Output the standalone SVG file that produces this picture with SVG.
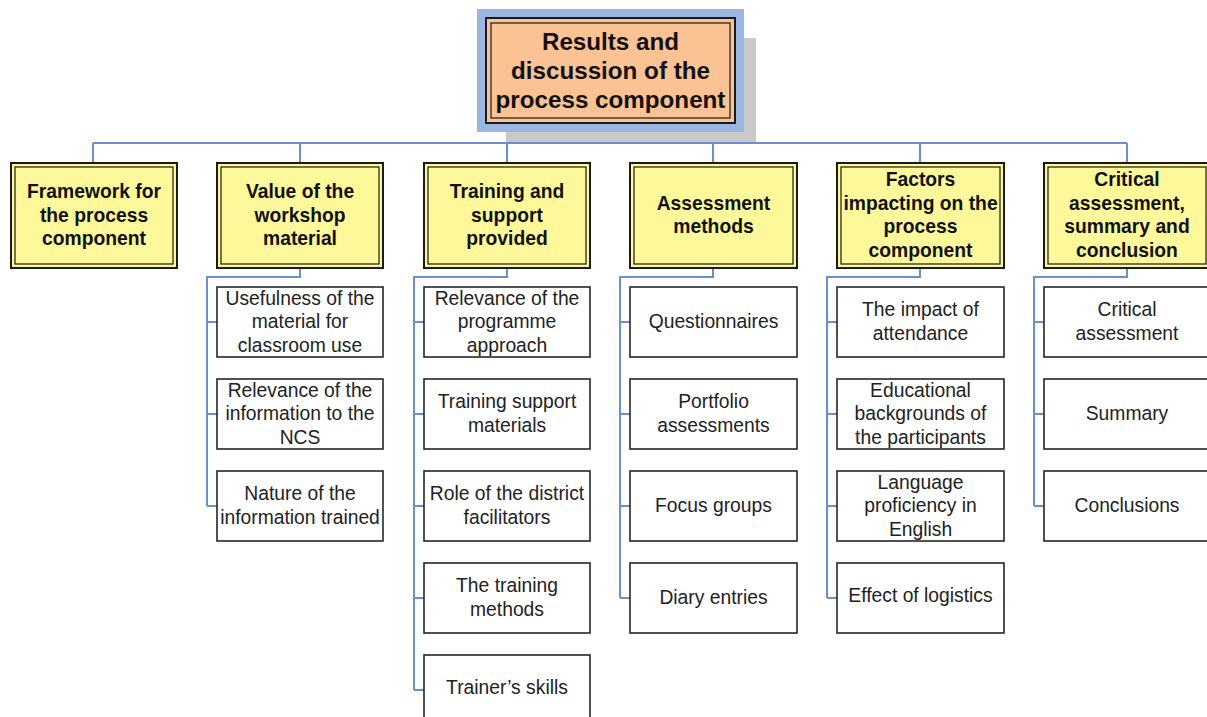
<svg xmlns="http://www.w3.org/2000/svg" width="1207" height="717" viewBox="0 0 1207 717">
  <style>
    .bus { fill: none; stroke: #6b8fcc; stroke-width: 2; }
    .head-outer { fill: #fdf89a; stroke: #1a1a1a; stroke-width: 2; }
    .head-inner { fill: none; stroke: #1a1a1a; stroke-width: 1.2; }
    .item { fill: #ffffff; stroke: #262626; stroke-width: 1.6; }
    .t-root { font-family: "Liberation Sans", Arial, sans-serif; font-weight: bold; font-size: 24.2px; fill: #111; text-anchor: middle; }
    .t-head { font-family: "Liberation Sans", Arial, sans-serif; font-weight: bold; font-size: 19.3px; fill: #111; text-anchor: middle; }
    .t-item { font-family: "Liberation Sans", Arial, sans-serif; font-size: 19.3px; fill: #222; text-anchor: middle; }
  </style>

  <rect width="1207" height="717" fill="#ffffff"/>

  <!-- connectors -->
  <g id="connectors">
    <path class="bus" d="M610,124 V143 M93,143 H1127 M93,143 V163 M300,143 V163 M507,143 V163 M713,143 V163 M920,143 V163 M1127,143 V163"/>
    <!-- Value of the workshop material -->
    <path class="bus" d="M300,268 V277 H207 V506 M207,322 H217 M207,414 H217 M207,506 H217"/>
    <!-- Training and support provided -->
    <path class="bus" d="M507,268 V277 H414 V690 M414,322 H424 M414,414 H424 M414,506 H424 M414,598 H424 M414,690 H424"/>
    <!-- Assessment methods -->
    <path class="bus" d="M713,268 V277 H620 V598 M620,322 H630 M620,414 H630 M620,506 H630 M620,598 H630"/>
    <!-- Factors impacting on the process component -->
    <path class="bus" d="M920,268 V277 H827 V598 M827,322 H837 M827,414 H837 M827,506 H837 M827,598 H837"/>
    <!-- Critical assessment, summary and conclusion -->
    <path class="bus" d="M1127,268 V277 H1034 V506 M1034,322 H1044 M1034,414 H1044 M1034,506 H1044"/>
  </g>

  <!-- root -->
  <g id="root">
    <rect x="506" y="38" width="250" height="104" fill="#c9c9c9"/>
    <rect x="477" y="9" width="267" height="123" fill="#9bb6e0"/>
    <rect x="486" y="18" width="249" height="105" fill="#fbc293" stroke="#1a1a1a" stroke-width="2"/>
    <rect x="491" y="23" width="239" height="95" fill="none" stroke="#1a1a1a" stroke-width="1.2"/>
    <text class="t-root" x="610.5" y="49.5">Results and</text>
    <text class="t-root" x="610.5" y="78.5">discussion of the</text>
    <text class="t-root" x="610.5" y="107.5">process component</text>
  </g>

  <!-- level one headings -->
  <g id="framework">
    <rect class="head-outer" x="11" y="163" width="166" height="105"/>
    <rect class="head-inner" x="15" y="167" width="158" height="97"/>
    <text class="t-head" x="94" y="198">Framework for</text>
    <text class="t-head" x="94" y="221.5">the process</text>
    <text class="t-head" x="94" y="245">component</text>
  </g>
  <g id="value">
    <rect class="head-outer" x="217" y="163" width="166" height="105"/>
    <rect class="head-inner" x="221" y="167" width="158" height="97"/>
    <text class="t-head" x="300" y="198">Value of the</text>
    <text class="t-head" x="300" y="221.5">workshop</text>
    <text class="t-head" x="300" y="245">material</text>
  </g>
  <g id="training">
    <rect class="head-outer" x="424" y="163" width="166" height="105"/>
    <rect class="head-inner" x="428" y="167" width="158" height="97"/>
    <text class="t-head" x="507" y="198">Training and</text>
    <text class="t-head" x="507" y="221.5">support</text>
    <text class="t-head" x="507" y="245">provided</text>
  </g>
  <g id="assessment">
    <rect class="head-outer" x="630" y="163" width="167" height="105"/>
    <rect class="head-inner" x="634" y="167" width="159" height="97"/>
    <text class="t-head" x="713.5" y="209.5">Assessment</text>
    <text class="t-head" x="713.5" y="233">methods</text>
  </g>
  <g id="factors">
    <rect class="head-outer" x="837" y="163" width="167" height="105"/>
    <rect class="head-inner" x="841" y="167" width="159" height="97"/>
    <text class="t-head" x="920.5" y="186">Factors</text>
    <text class="t-head" x="920.5" y="209.5">impacting on the</text>
    <text class="t-head" x="920.5" y="233">process</text>
    <text class="t-head" x="920.5" y="256.5">component</text>
  </g>
  <g id="critical">
    <rect class="head-outer" x="1044" y="163" width="166" height="105"/>
    <rect class="head-inner" x="1048" y="167" width="158" height="97"/>
    <text class="t-head" x="1127" y="186">Critical</text>
    <text class="t-head" x="1127" y="209.5">assessment,</text>
    <text class="t-head" x="1127" y="233">summary and</text>
    <text class="t-head" x="1127" y="256.5">conclusion</text>
  </g>

  <!-- Value of the workshop material: items -->
  <g id="value-usefulness">
    <rect class="item" x="217" y="287" width="166" height="70"/>
    <text class="t-item" x="300" y="304.5">Usefulness of the</text>
    <text class="t-item" x="300" y="328">material for</text>
    <text class="t-item" x="300" y="351.5">classroom use</text>
  </g>
  <g id="value-relevance">
    <rect class="item" x="217" y="379" width="166" height="70"/>
    <text class="t-item" x="300" y="396.5">Relevance of the</text>
    <text class="t-item" x="300" y="420">information to the</text>
    <text class="t-item" x="300" y="443.5">NCS</text>
  </g>
  <g id="value-nature">
    <rect class="item" x="217" y="471" width="166" height="70"/>
    <text class="t-item" x="300" y="500">Nature of the</text>
    <text class="t-item" x="300" y="523.5">information trained</text>
  </g>

  <!-- Training and support provided: items -->
  <g id="training-relevance">
    <rect class="item" x="424" y="287" width="166" height="70"/>
    <text class="t-item" x="507" y="304.5">Relevance of the</text>
    <text class="t-item" x="507" y="328">programme</text>
    <text class="t-item" x="507" y="351.5">approach</text>
  </g>
  <g id="training-materials">
    <rect class="item" x="424" y="379" width="166" height="70"/>
    <text class="t-item" x="507" y="408">Training support</text>
    <text class="t-item" x="507" y="431.5">materials</text>
  </g>
  <g id="training-facilitators">
    <rect class="item" x="424" y="471" width="166" height="70"/>
    <text class="t-item" x="507" y="500">Role of the district</text>
    <text class="t-item" x="507" y="523.5">facilitators</text>
  </g>
  <g id="training-methods">
    <rect class="item" x="424" y="563" width="166" height="70"/>
    <text class="t-item" x="507" y="592">The training</text>
    <text class="t-item" x="507" y="615.5">methods</text>
  </g>
  <g id="training-skills">
    <rect class="item" x="424" y="655" width="166" height="70"/>
    <text class="t-item" x="507" y="693.5">Trainer’s skills</text>
  </g>

  <!-- Assessment methods: items -->
  <g id="assessment-questionnaires">
    <rect class="item" x="630" y="287" width="167" height="70"/>
    <text class="t-item" x="713.5" y="328">Questionnaires</text>
  </g>
  <g id="assessment-portfolio">
    <rect class="item" x="630" y="379" width="167" height="70"/>
    <text class="t-item" x="713.5" y="408">Portfolio</text>
    <text class="t-item" x="713.5" y="431.5">assessments</text>
  </g>
  <g id="assessment-focus">
    <rect class="item" x="630" y="471" width="167" height="70"/>
    <text class="t-item" x="713.5" y="512">Focus groups</text>
  </g>
  <g id="assessment-diary">
    <rect class="item" x="630" y="563" width="167" height="70"/>
    <text class="t-item" x="713.5" y="604">Diary entries</text>
  </g>

  <!-- Factors impacting on the process component: items -->
  <g id="factors-attendance">
    <rect class="item" x="837" y="287" width="167" height="70"/>
    <text class="t-item" x="920.5" y="316">The impact of</text>
    <text class="t-item" x="920.5" y="339.5">attendance</text>
  </g>
  <g id="factors-backgrounds">
    <rect class="item" x="837" y="379" width="167" height="70"/>
    <text class="t-item" x="920.5" y="396.5">Educational</text>
    <text class="t-item" x="920.5" y="420">backgrounds of</text>
    <text class="t-item" x="920.5" y="443.5">the participants</text>
  </g>
  <g id="factors-language">
    <rect class="item" x="837" y="471" width="167" height="70"/>
    <text class="t-item" x="920.5" y="488.5">Language</text>
    <text class="t-item" x="920.5" y="512">proficiency in</text>
    <text class="t-item" x="920.5" y="535.5">English</text>
  </g>
  <g id="factors-logistics">
    <rect class="item" x="837" y="563" width="167" height="70"/>
    <text class="t-item" x="920.5" y="602">Effect of logistics</text>
  </g>

  <!-- Critical assessment, summary and conclusion: items -->
  <g id="critical-assessment">
    <rect class="item" x="1044" y="287" width="166" height="70"/>
    <text class="t-item" x="1127" y="316">Critical</text>
    <text class="t-item" x="1127" y="339.5">assessment</text>
  </g>
  <g id="critical-summary">
    <rect class="item" x="1044" y="379" width="166" height="70"/>
    <text class="t-item" x="1127" y="420">Summary</text>
  </g>
  <g id="critical-conclusions">
    <rect class="item" x="1044" y="471" width="166" height="70"/>
    <text class="t-item" x="1127" y="512">Conclusions</text>
  </g>
</svg>
